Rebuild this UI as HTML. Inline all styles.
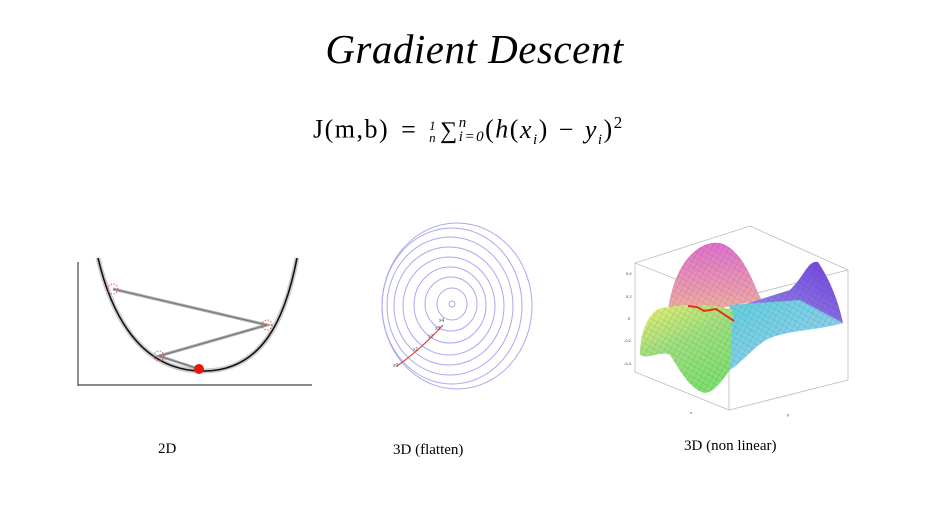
<!DOCTYPE html>
<html><head><meta charset="utf-8"><style>
body{margin:0;width:949px;height:530px;background:#fff;overflow:hidden;position:relative;font-family:"Liberation Serif",serif}
.t{position:absolute;white-space:nowrap}
.f span{display:inline-block}
</style></head><body>
<div class="t" style="left:0;width:949px;text-align:center;top:25px;font-size:41px;font-style:italic;letter-spacing:0.5px">Gradient Descent</div>
<div class="t f" style="left:313px;top:113px;font-size:26px;letter-spacing:1.5px">J(m,b)<span style="width:40px;text-align:center">=</span><span style="font-style:italic;font-size:13px;vertical-align:middle;text-align:center;line-height:12px;margin-right:3px">1<br>n</span><span style="font-size:24px">∑</span><span style="vertical-align:middle;font-size:15px;line-height:14px;font-style:italic;margin-top:-4px">n<br>i=0</span>(<i>h</i>(<i>x<sub style="font-size:15px">i</sub></i>)<span style="width:36px;text-align:center">−</span><i>y<sub style="font-size:15px">i</sub></i>)<sup style="font-size:17px">2</sup></div>
<svg width="949" height="530" style="position:absolute;left:0;top:0">
<g>
<line x1="78" y1="386" x2="78" y2="262" stroke="#444" stroke-width="1.2"/>
<line x1="78" y1="385" x2="312" y2="385" stroke="#444" stroke-width="1.2"/>
<path d="M98,258 C115,330 150,372 205,371 C262,370 285,320 297,258" fill="none" stroke="#ccc" stroke-width="5"/>
<path d="M98,258 C115,330 150,372 205,371 C262,370 285,320 297,258" fill="none" stroke="#111" stroke-width="1.6"/>
<polyline points="113,289 267,325 159,356 199,369" fill="none" stroke="#aaa" stroke-width="3"/>
<polyline points="113,289 267,325 159,356 199,369" fill="none" stroke="#777" stroke-width="1"/>
<circle cx="113" cy="289" r="5" fill="none" stroke="#e55" stroke-dasharray="1.5,1.5"/>
<circle cx="267" cy="325" r="5" fill="none" stroke="#e55" stroke-dasharray="1.5,1.5"/>
<circle cx="159" cy="356" r="5" fill="none" stroke="#e55" stroke-dasharray="1.5,1.5"/>
<circle cx="199" cy="369" r="5" fill="#e8180c"/>
</g>
<g fill="none" stroke="#a9a9f0" stroke-width="1">
<circle cx="452" cy="304" r="3"/>
<ellipse cx="452" cy="304" rx="15" ry="16"/>
<ellipse cx="451" cy="304" rx="26" ry="27"/>
<ellipse cx="450" cy="305" rx="36" ry="38"/>
<ellipse cx="449" cy="306" rx="46" ry="49"/>
<ellipse cx="449" cy="306" rx="55" ry="59"/>
<ellipse cx="450" cy="306" rx="63" ry="69"/>
<ellipse cx="452" cy="306" rx="70" ry="78"/>
<ellipse cx="457" cy="306" rx="75" ry="83"/>
<path d="M397,366 Q420,350 443,325" stroke="#e04040" stroke-width="1.2"/>
<g fill="#555" font-size="5" stroke="none" font-family="Liberation Sans,sans-serif"><text x="393" y="367">x0</text><text x="413" y="351">x1</text><text x="428" y="338">x2</text><text x="435" y="330">x3</text><text x="439" y="322">x4</text></g>
</g>
<g>
<defs>
<linearGradient id="pk" x1="0" y1="0" x2="0" y2="1"><stop offset="0" stop-color="#e070d0"/><stop offset="1" stop-color="#f0b0a0"/></linearGradient>
<linearGradient id="pu" x1="1" y1="0" x2="0" y2="1"><stop offset="0" stop-color="#7040e0"/><stop offset="1" stop-color="#a0a0e8"/></linearGradient>
<linearGradient id="gr" x1="0" y1="0" x2="0.5" y2="1"><stop offset="0" stop-color="#e8f070"/><stop offset="0.5" stop-color="#a0e080"/><stop offset="1" stop-color="#80e070"/></linearGradient>
<linearGradient id="cy" x1="0" y1="0" x2="1" y2="1"><stop offset="0" stop-color="#60d0e0"/><stop offset="1" stop-color="#a0d0f0"/></linearGradient>
<pattern id="grid" width="5" height="5" patternUnits="userSpaceOnUse" patternTransform="rotate(30)"><path d="M0,0 L0,5 M0,0 L5,0" stroke="#333" stroke-width="0.4" opacity="0.5"/></pattern>
</defs>
<g fill="none" stroke="#bbb" stroke-width="0.8"><path d="M635,263 L750,226 L848,270 L848,380 L729,410 L729,300 L635,263 L635,372 L729,410 M729,300 L848,270"/></g>
<path id="s1" d="M668,310 C675,260 700,240 720,243 C745,250 755,290 762,300 L700,312 Z" fill="url(#pk)"/>
<path d="M668,310 C675,260 700,240 720,243 C745,250 755,290 762,300 L700,312 Z" fill="url(#grid)"/>
<path d="M720,312 L790,290 C805,275 808,260 818,262 C830,280 838,300 843,323 L780,330 Z" fill="url(#pu)"/>
<path d="M720,312 L790,290 C805,275 808,260 818,262 C830,280 838,300 843,323 L780,330 Z" fill="url(#grid)"/>
<path d="M730,305 L800,300 L843,323 C820,330 790,330 770,338 C755,345 745,360 730,370 Z" fill="url(#cy)"/>
<path d="M730,305 L800,300 L843,323 C820,330 790,330 770,338 C755,345 745,360 730,370 Z" fill="url(#grid)"/>
<path d="M640,355 C640,330 650,310 662,308 C680,305 705,302 733,310 L730,370 C722,380 715,392 705,393 C690,390 680,370 670,355 C660,350 650,360 640,355 Z" fill="url(#gr)"/>
<path d="M640,355 C640,330 650,310 662,308 C680,305 705,302 733,310 L730,370 C722,380 715,392 705,393 C690,390 680,370 670,355 C660,350 650,360 640,355 Z" fill="url(#grid)"/>
<polyline points="688,306 697,307 704,311 716,309 734,321" fill="none" stroke="#e03020" stroke-width="2"/>
<g font-size="4" fill="#333" font-family="Liberation Sans,sans-serif"><text x="626" y="275">0.4</text><text x="626" y="298">0.2</text><text x="628" y="320">0</text><text x="624" y="342">-0.2</text><text x="624" y="365">-0.4</text><text x="690" y="414">x</text><text x="787" y="416">y</text></g>
</g>
</svg>
<div class="t" style="left:158px;top:441px;font-size:15px">2D</div>
<div class="t" style="left:393px;top:442px;font-size:15px">3D (flatten)</div>
<div class="t" style="left:684px;top:438px;font-size:15px">3D (non linear)</div>
</body></html>
